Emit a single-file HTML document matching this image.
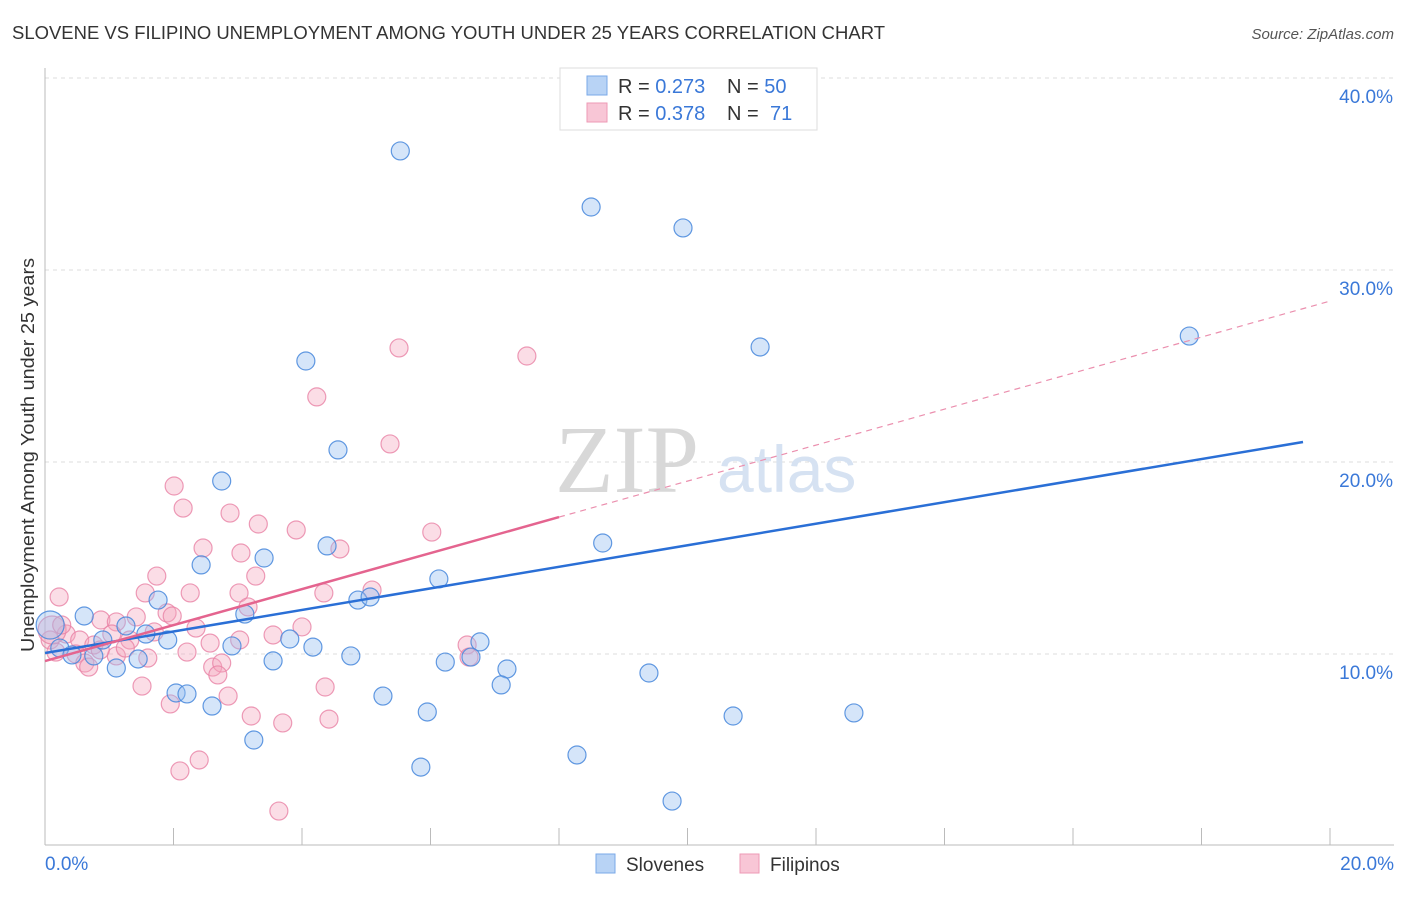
<!DOCTYPE html>
<html><head><meta charset="utf-8"><style>
body{margin:0;background:#fff;font-family:"Liberation Sans",sans-serif}
svg text{font-family:"Liberation Sans",sans-serif}
</style></head><body>
<svg id="chart" width="1406" height="892">
<text x="12" y="39" font-size="18" fill="#333" textLength="873" lengthAdjust="spacingAndGlyphs">SLOVENE VS FILIPINO UNEMPLOYMENT AMONG YOUTH UNDER 25 YEARS CORRELATION CHART</text>
<text x="1394" y="39" font-size="15" fill="#555" font-style="italic" text-anchor="end">Source: ZipAtlas.com</text>
<g id="grid"></g>
<text x="555" y="492" font-size="96" fill="#d8d8d8" style="font-family:'Liberation Serif',serif">ZIP</text>
<text x="717" y="492" font-size="66" fill="#d6e2f2">atlas</text>
<g id="axes"></g>
<g id="pts"></g>
<g id="lines"></g>
<text transform="translate(34,455) rotate(-90)" font-size="18" fill="#333" text-anchor="middle" textLength="394" lengthAdjust="spacingAndGlyphs">Unemployment Among Youth under 25 years</text>
<g>
<rect x="560" y="68" width="257" height="62" fill="#fff" stroke="#ddd"/>
<rect x="587" y="76" width="20" height="19" fill="#b8d3f5" stroke="#7aa8e8"/>
<rect x="587" y="103" width="20" height="19" fill="#f8c6d6" stroke="#ee9ab5"/>
<text x="618" y="93" font-size="20" fill="#333">R = <tspan fill="#3a78d8">0.273</tspan></text>
<text x="727" y="93" font-size="20" fill="#333">N = <tspan fill="#3a78d8">50</tspan></text>
<text x="618" y="120" font-size="20" fill="#333">R = <tspan fill="#3a78d8">0.378</tspan></text>
<text x="727" y="120" font-size="20" fill="#333">N = <tspan x="770" fill="#3a78d8">71</tspan></text>
</g>
<g>
<rect x="596" y="854" width="19" height="19" fill="#b8d3f5" stroke="#7aa8e8"/>
<text x="626" y="871" font-size="19" fill="#333">Slovenes</text>
<rect x="740" y="854" width="19" height="19" fill="#f8c6d6" stroke="#ee9ab5"/>
<text x="770" y="871" font-size="19" fill="#333">Filipinos</text>
</g>
</svg>
<script>
const yTicks=[10,20,30,40];
const yTickLabels=["10.0%","20.0%","30.0%","40.0%"];
const xTickLabels=["0.0%","20.0%"];
const blueX=[5.53,8.50,9.93,11.13,17.81,4.06,4.56,2.75,8.68,4.39,3.41,2.43,6.13,4.87,5.06,1.76,0.61,3.11,1.26,1.57,1.91,2.91,3.81,4.17,6.77,0.90,0.23,0.42,0.76,1.45,1.11,3.55,4.76,6.23,6.63,7.19,9.40,7.10,2.04,2.21,2.60,5.26,5.95,10.71,12.59,3.25,8.28,5.85,9.76,0.08];
const blueY=[36.20,33.28,32.19,25.99,26.56,25.26,20.63,19.01,15.78,15.63,15.00,14.64,13.91,12.81,12.97,12.81,11.98,12.08,11.46,11.04,10.73,10.42,10.78,10.36,10.63,10.73,10.31,9.95,9.90,9.74,9.27,9.64,9.90,9.58,9.84,9.22,9.01,8.39,7.97,7.92,7.29,7.81,6.98,6.77,6.93,5.52,4.74,4.11,2.34,11.51];
const pinkX=[5.51,7.50,4.23,5.37,2.01,2.15,2.88,6.02,3.32,3.91,2.46,3.05,4.59,3.28,1.74,0.22,1.56,5.09,2.26,3.02,4.34,1.90,3.16,0.87,1.42,1.98,1.11,4.00,2.35,1.70,0.33,1.04,3.55,0.08,0.54,1.32,2.57,6.57,0.76,2.21,0.48,0.17,0.62,0.68,1.60,1.11,2.61,2.75,2.69,6.60,4.36,1.51,2.85,1.95,3.21,3.70,4.42,2.40,2.10,3.64,0.11,0.26,0.86,1.25,3.03];
const pinkY=[25.94,25.52,23.39,20.94,18.75,17.60,17.34,16.35,16.77,16.46,15.52,15.26,15.47,14.06,14.06,12.97,13.18,13.33,13.18,13.18,13.18,12.14,12.45,11.77,11.93,11.98,11.67,11.41,11.35,11.15,11.04,11.04,10.99,10.73,10.73,10.73,10.57,10.47,10.47,10.10,10.00,10.10,9.53,9.32,9.79,9.90,9.32,9.53,8.91,9.84,8.28,8.33,7.81,7.40,6.77,6.41,6.61,4.48,3.91,1.82,11.25,11.51,10.21,10.31,10.73];
const blueTrend=[10.05,21.04]; const blueTrendX=[0,19.58];
const pinkTrend=[9.63,17.13]; const pinkTrendX=[0,8.0]; const pinkDashEnd=[20,28.38];
const NS="http://www.w3.org/2000/svg";
const sx=v=>45+v*64.25, sy=v=>654-(v-10)*19.2;
function mk(t,a,p){const e=document.createElementNS(NS,t);for(const k in a)e.setAttribute(k,a[k]);p.appendChild(e);return e;}
const grid=document.getElementById('grid'),axes=document.getElementById('axes'),pts=document.getElementById('pts'),lines=document.getElementById('lines');
yTicks.forEach((t,i)=>{
 const l=mk('line',{x1:45,x2:1394,y1:sy(t),y2:sy(t),stroke:'#ddd','stroke-dasharray':'4,4'},grid);
 
 
 const tx=mk('text',{x:1393,y:sy(t)+25,'font-size':19,fill:'#3a78d8','text-anchor':'end'},grid);
 tx.textContent=yTickLabels[i];
 
 
});
const ax=mk('line',{x1:45,x2:45,y1:68,y2:845,stroke:'#bbb'},axes);


const bx=mk('line',{x1:45,x2:1394,y1:845,y2:845,stroke:'#bbb'},axes);


for(let i=0;i<=10;i++){const t=mk('line',{x1:sx(i*2),x2:sx(i*2),y1:828,y2:845,stroke:'#bbb'},axes);
 
 }
[[0,'start',45],[20,'end',1394]].forEach((d,i)=>{const t=mk('text',{x:d[2],y:870,'font-size':19,fill:'#3a78d8','text-anchor':d[1]},axes);t.textContent=xTickLabels[i];
 
 });
function dots(X,Y,fill,stroke,name){X.forEach((x,i)=>{const r=(i===X.length-1&&name==='slovene-point')||(name==='filipino-point'&&i===60)?14:9;
 const c=mk('circle',{cx:sx(x),cy:sy(Y[i]),r:r,fill:fill,stroke:stroke,'stroke-width':1.2},pts);
 
 });}
dots(pinkX,pinkY,'rgba(245,165,190,0.38)','rgba(232,130,165,0.8)','filipino-point');
dots(blueX,blueY,'rgba(150,190,240,0.40)','rgba(70,135,220,0.85)','slovene-point');
const bl=mk('line',{x1:sx(blueTrendX[0]),y1:sy(blueTrend[0]),x2:sx(blueTrendX[1]),y2:sy(blueTrend[1]),stroke:'#2a6fd6','stroke-width':2.5},lines);


const pd=mk('line',{x1:sx(pinkTrendX[1]),y1:sy(pinkTrend[1]),x2:sx(pinkDashEnd[0]),y2:sy(pinkDashEnd[1]),stroke:'#eb8fae','stroke-width':1.2,'stroke-dasharray':'6,5'},lines);


const pl=mk('line',{x1:sx(pinkTrendX[0]),y1:sy(pinkTrend[0]),x2:sx(pinkTrendX[1]),y2:sy(pinkTrend[1]),stroke:'#e4648f','stroke-width':2.5},lines);


</script>
</body></html>
